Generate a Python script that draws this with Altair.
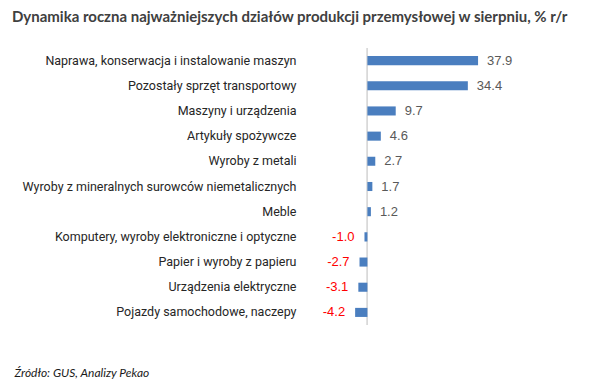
import altair as alt
import pandas as pd

categories = [
    "Naprawa, konserwacja i instalowanie maszyn",
    "Pozostały sprzęt transportowy",
    "Maszyny i urządzenia",
    "Artykuły spożywcze",
    "Wyroby z metali",
    "Wyroby z mineralnych surowców niemetalicznych",
    "Meble",
    "Komputery, wyroby elektroniczne i optyczne",
    "Papier i wyroby z papieru",
    "Urządzenia elektryczne",
    "Pojazdy samochodowe, naczepy",
]
values = [37.9, 34.4, 9.7, 4.6, 2.7, 1.7, 1.2, -1.0, -2.7, -3.1, -4.2]

df = pd.DataFrame({"kategoria": categories, "wartosc": values})
df["etykieta"] = df["wartosc"].map(lambda v: f"{v:.1f}")

PX = 2.92
XMIN, XMAX = -20, 75
W = (XMAX - XMIN) * PX
H = 277

x_enc = alt.X(
    "wartosc:Q",
    scale=alt.Scale(domain=[XMIN, XMAX], nice=False, zero=False),
    axis=alt.Axis(
        labels=False, ticks=False, domain=False, grid=False,
        title="Źródło: GUS, Analizy Pekao",
        titleFontStyle="italic", titleFontWeight="normal", titleFontSize=12,
        titleFont="Lato", titleColor="#1a1a1a",
        titleAlign="left", titleBaseline="middle",
        titleX=-295, titleY=48,
    ),
)
y_enc = alt.Y(
    "kategoria:N",
    sort=None,
    scale=alt.Scale(paddingInner=0.64, paddingOuter=0.32),
    axis=alt.Axis(
        title=None, ticks=False, domain=False, grid=False,
        labelFont="Roboto", labelFontSize=12.5, labelColor="#262626",
        labelPadding=13, labelLimit=400,
    ),
)

base = alt.Chart(df)

bars = base.mark_bar(color="#4a7ebf").encode(x=x_enc, y=y_enc)

zero = alt.Chart(df).mark_rule(color="#d9d9d9", strokeWidth=1).encode(x=alt.datum(0))

pos = base.transform_filter("datum.wartosc >= 0").mark_text(
    align="left", dx=9, font="Liberation Sans", fontSize=13, color="#595959"
).encode(x="wartosc:Q", y=alt.Y("kategoria:N", sort=None), text="etykieta:N")

neg = base.transform_filter("datum.wartosc < 0").mark_text(
    align="right", dx=-10, font="Liberation Sans", fontSize=13, color="#ff0000"
).encode(x="wartosc:Q", y=alt.Y("kategoria:N", sort=None), text="etykieta:N")

chart = alt.layer(zero, bars, pos, neg).properties(
    width=W,
    height=H,
    background="white",
    autosize=alt.AutoSizeParams(type="none"),
    padding={"left": 301, "top": 40, "right": 10.5, "bottom": 56},
    title=alt.TitleParams(
        "Dynamika roczna najważniejszych działów produkcji przemysłowej w sierpniu, % r/r",
        anchor="start", frame="group", font="Lato", fontSize=15, fontWeight="bold",
        color="#404040", dx=-297, offset=23,
    ),
).configure_view(stroke=None, strokeWidth=0)

chart.save("out.html", embed_options={"renderer": "svg", "actions": False})
